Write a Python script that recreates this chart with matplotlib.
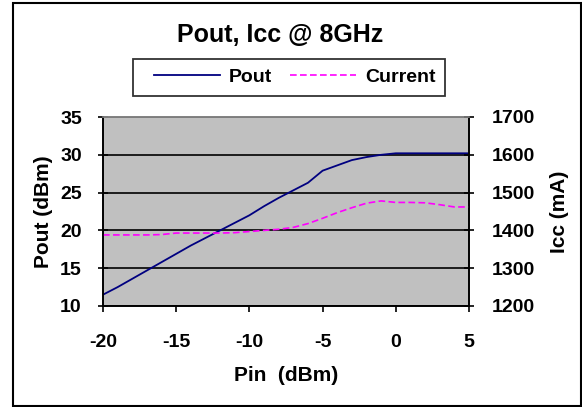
import matplotlib
matplotlib.use("Agg")
import matplotlib.pyplot as plt
from matplotlib.patches import Rectangle
from matplotlib.legend_handler import HandlerLine2D

pin = [-20, -19, -18, -17, -16, -15, -14, -13, -12, -11, -10, -9, -8, -7, -6, -5,
       -4, -3, -2, -1, 0, 1, 2, 3, 4, 5]
pout = [11.5, 12.5, 13.6, 14.7, 15.8, 16.9, 18.0, 19.0, 20.0, 21.0, 22.0, 23.2, 24.3,
        25.3, 26.3, 27.9, 28.6, 29.3, 29.7, 30.0, 30.2, 30.2, 30.2, 30.2, 30.2, 30.2]
current = [1388, 1388, 1388, 1388, 1389, 1393, 1393, 1393, 1393, 1394, 1397, 1400, 1403,
           1408, 1418, 1432, 1447, 1460, 1472, 1478, 1474, 1474, 1473, 1468, 1462, 1462]

xticks = [-20, -15, -10, -5, 0, 5]
yticks_left = [10, 15, 20, 25, 30, 35]
yticks_right = [1200, 1300, 1400, 1500, 1600, 1700]

plt.rcParams['font.family'] = ['Liberation Sans', 'DejaVu Sans']
plt.rcParams['font.weight'] = 'bold'
plt.rcParams['axes.unicode_minus'] = False

W, H = 582, 407
fig = plt.figure(figsize=(W / 100, H / 100), dpi=100)
L, R, T, B = 103, 469, 117, 306
ax = fig.add_axes([L / W, 1 - B / H, (R - L) / W, (B - T) / H])
ax.set_facecolor('#c0c0c0')

l1, = ax.plot(pin, pout, color='#000080', lw=1.3, label='Pout')
ax.set_xlim(-20, 5)
ax.set_ylim(10, 35)
ax.set_xticks(xticks)
ax.set_yticks(yticks_left)
ax.yaxis.grid(True, color='black', lw=1.2)
ax.set_axisbelow(True)

ax2 = ax.twinx()
l2, = ax2.plot(pin, current, color='#ff00ff', lw=1.2, ls=(0, (4, 2)), label='Current')
ax2.set_ylim(1200, 1700)
ax2.set_yticks(yticks_right)

for a in (ax, ax2):
    for s in a.spines.values():
        s.set_color('black')
        s.set_linewidth(1.2)
    a.spines['top'].set_color('#808080')
    a.tick_params(labelsize=14, width=1.2)
ax.tick_params(axis='y', direction='inout', length=6.5, pad=12)
ax2.tick_params(axis='y', direction='inout', length=6.5, pad=13)
ax.tick_params(axis='x', direction='out', length=4, pad=16)
for lab in ax.get_xticklabels() + ax.get_yticklabels() + ax2.get_yticklabels():
    lab.set_fontweight('bold')

ax.set_xlabel('Pin  (dBm)', fontsize=15, fontweight='bold', labelpad=11)
ax.set_ylabel('Pout (dBm)', fontsize=15, fontweight='bold', labelpad=5)
ax2.set_ylabel('Icc (mA)', fontsize=15, fontweight='bold', labelpad=11)

fig.text(280 / W, 1 - 35 / H, 'Pout, Icc @ 8GHz', ha='center', va='center',
         fontsize=18, fontweight='bold')

hm = {l1: HandlerLine2D(xpad=0.57), l2: HandlerLine2D(xpad=0.57)}
leg = fig.legend([l1, l2], ['Pout', 'Current'], loc='center', ncol=2,
                 bbox_to_anchor=(289 / W, 1 - 77.4 / H), frameon=True, fancybox=False,
                 edgecolor='black', fontsize=14, handlelength=3.97, columnspacing=0.36,
                 handletextpad=0.46, borderpad=0.5, handler_map=hm)
leg.get_frame().set_linewidth(1.3)
for t in leg.get_texts():
    t.set_fontweight('bold')

fig.patches.append(Rectangle((12.7 / W, 1 - 405.7 / H), (580.7 - 12.7) / W, (405.7 - 2.7) / H,
                             transform=fig.transFigure, fill=False, edgecolor='black', lw=1.5))

fig.savefig('out.png', dpi=100)
